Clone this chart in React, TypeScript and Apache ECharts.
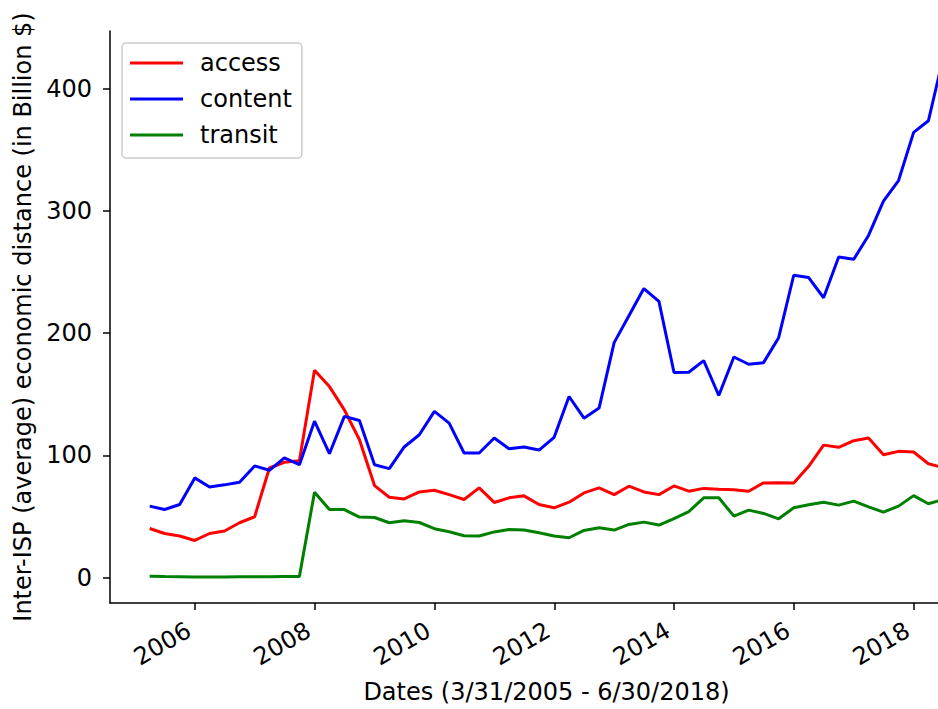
import React, { useEffect, useRef } from "react";
import * as echarts from "echarts";

// Quarter-end dates: 3/31/2005 ... 6/30/2018
const quarterEnds: string[] = (() => {
  const out: string[] = [];
  const ends = ["03-31", "06-30", "09-30", "12-31"];
  for (let y = 2005; y <= 2018; y++) {
    for (const e of ends) {
      const d = `${y}-${e}`;
      if (d >= "2005-03-31" && d <= "2018-06-30") out.push(d);
    }
  }
  return out;
})();

const access: number[] = [
  40.2, 36.1, 34.0, 30.4, 36.1, 38.1, 44.9, 49.8, 89.7, 94.4, 95.7,
  169.6, 156.3, 137.3, 112.8, 75.3, 65.8, 64.4, 70.1, 71.5, 67.9, 63.9,
  73.4, 61.5, 65.3, 66.9, 59.8, 57.1, 61.7, 69.3, 73.4, 67.9, 74.8,
  70.1, 67.9, 75.0, 70.7, 73.0, 72.3, 71.8, 70.7, 77.5, 77.7, 77.5,
  91.1, 108.4, 106.6, 112.0, 114.2, 100.6, 103.3, 102.8, 93.2, 90.0,
];

const content: number[] = [
  58.5, 55.7, 59.8, 81.6, 74.2, 75.9, 78.1, 91.4, 87.8, 97.9, 92.4,
  128.0, 101.4, 131.9, 128.6, 92.4, 89.2, 106.9, 116.9, 136.0, 126.4, 102.0,
  102.0, 114.2, 105.5, 106.9, 104.4, 114.8, 148.2, 130.5, 138.7, 192.3, 214.3,
  236.5, 226.0, 167.8, 168.0, 177.6, 149.0, 180.5, 174.6, 175.9, 196.3, 247.4,
  245.5, 229.0, 262.4, 260.5, 280.0, 308.1, 324.9, 364.3, 373.8, 426.0,
];

const transit: number[] = [
  1.2, 0.9, 0.7, 0.5, 0.6, 0.6, 0.7, 0.7, 0.8, 0.9, 1.0,
  69.9, 55.7, 55.7, 49.5, 49.2, 44.9, 46.5, 45.1, 40.0, 37.5, 34.3,
  34.0, 37.4, 39.4, 38.9, 36.7, 34.0, 32.6, 38.6, 40.8, 38.9, 43.5,
  45.4, 43.0, 48.2, 54.0, 65.3, 65.3, 50.3, 55.2, 52.5, 48.1, 57.1,
  59.6, 61.7, 59.3, 62.6, 57.9, 53.6, 58.5, 67.1, 60.4, 64.0,
];

const seriesNames = ["access", "content", "transit"];
const seriesColors = ["#ff0000", "#0000ff", "#008000"];
const yTicks = [0, 100, 200, 300, 400];
const xTickYears = [2006, 2008, 2010, 2012, 2014, 2016, 2018];
const xTitle = "Dates (3/31/2005 - 6/30/2018)";
const yTitle = "Inter-ISP (average) economic distance (in Billion $)";

const FONT = "DejaVu Sans";

export default function App() {
  const ref = useRef<HTMLDivElement>(null);
  useEffect(() => {
    if (!ref.current) return;
    const chart = echarts.init(ref.current, null, { renderer: "svg" });

    const toTs = (s: string) => {
      const [y, m, d] = s.split("-").map(Number);
      return Date.UTC(y, m - 1, d);
    };
    const xs = quarterEnds.map(toTs);
    const xSpan = xs[xs.length - 1] - xs[0];
    const xMin = xs[0] - 0.05 * xSpan;
    const xMax = xs[xs.length - 1] + 0.05 * xSpan;

    const all = [...access, ...content, ...transit];
    const dMin = Math.min(...all);
    const dMax = Math.max(...all);
    const ySpan = dMax - dMin;
    const yMin = dMin - 0.05 * ySpan;
    const yMax = dMax + 0.05 * ySpan;

    const xTicks = xTickYears.map((y) => Date.UTC(y, 0, 1));
    const datasets = [access, content, transit];

    const axisText = { fontSize: 24, color: "#000", fontFamily: FONT };

    chart.setOption({
      animation: false,
      backgroundColor: "#ffffff",
      textStyle: { fontFamily: FONT },
      grid: { left: 110, right: 0, top: 31, bottom: 104, containLabel: false },
      legend: {
        data: seriesNames.map((n) => ({ name: n, icon: "rect" })),
        orient: "vertical",
        left: 122,
        top: 43,
        itemWidth: 53,
        itemHeight: 3,
        itemGap: 8,
        selectedMode: false,
        padding: [6, 10, 9, 8],
        borderColor: "#cccccc",
        borderWidth: 1.5,
        borderRadius: 4,
        backgroundColor: "#ffffff",
        textStyle: {
          fontSize: 24,
          color: "#000",
          fontFamily: FONT,
          lineHeight: 28,
          padding: [0, 0, 0, 12],
        },
      },
      xAxis: {
        type: "value",
        min: xMin,
        max: xMax,
        splitLine: { show: false },
        axisLine: { onZero: false, lineStyle: { color: "#000", width: 1.5 } },
        axisTick: {
          show: true,
          length: 7,
          customValues: xTicks,
          lineStyle: { color: "#000", width: 1.5 },
        },
        axisLabel: {
          ...axisText,
          customValues: xTicks,
          rotate: 30,
          margin: 22,
          padding: [0, 7, 0, 0],
          formatter: (v: number) => String(new Date(v).getUTCFullYear()),
        },
        name: xTitle,
        nameLocation: "middle",
        nameGap: 77,
        nameTextStyle: axisText,
      },
      yAxis: {
        type: "value",
        min: yMin,
        max: yMax,
        splitLine: { show: false },
        axisLine: { show: true, onZero: false, lineStyle: { color: "#000", width: 1.5 } },
        axisTick: {
          show: true,
          length: 7,
          customValues: yTicks,
          lineStyle: { color: "#000", width: 1.5 },
        },
        axisLabel: {
          ...axisText,
          customValues: yTicks,
          margin: 18,
          formatter: (v: number) => String(Math.round(v)),
        },
        name: yTitle,
        nameLocation: "middle",
        nameRotate: 90,
        nameGap: 74,
        nameTextStyle: axisText,
      },
      series: seriesNames.map((name, k) => ({
        name,
        type: "line",
        showSymbol: false,
        symbol: "none",
        color: seriesColors[k],
        lineStyle: { width: 3, color: seriesColors[k] },
        data: xs.map((x, i) => [x, datasets[k][i]]),
      })),
    });

    return () => chart.dispose();
  }, []);

  return (
    <div
      style={{
        position: "absolute",
        left: 0,
        top: 0,
        width: 938,
        height: 709,
        overflow: "hidden",
        background: "#fff",
      }}
    >
      <div ref={ref} style={{ width: 983, height: 709 }} />
    </div>
  );
}
